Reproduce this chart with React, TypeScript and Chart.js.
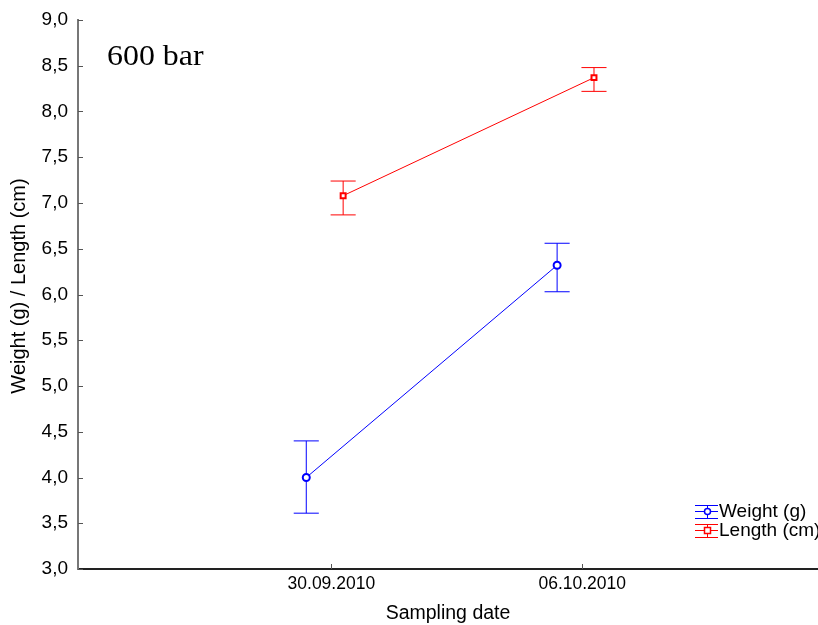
import React, { useEffect, useRef } from "react";
import { Chart, registerables } from "chart.js";

Chart.register(...registerables);

const dateLabels = ["30.09.2010", "06.10.2010"];
const datePositions = [1, 2];

const weightMean = [4.0, 6.32];
const weightLow = [3.61, 6.03];
const weightHigh = [4.4, 6.56];

const lengthMean = [7.08, 8.37];
const lengthLow = [6.87, 8.22];
const lengthHigh = [7.24, 8.48];

const yTicks = [3.0, 3.5, 4.0, 4.5, 5.0, 5.5, 6.0, 6.5, 7.0, 7.5, 8.0, 8.5, 9.0];

const WEIGHT_OFFSET = -0.1;
const LENGTH_OFFSET = 0.047;
const CAP_HALF = 0.05;

const BLUE = "rgb(0, 0, 255)";
const RED = "rgb(255, 0, 0)";
const SANS = "'Liberation Sans', Arial, sans-serif";
const SERIF = "'Liberation Serif', 'Times New Roman', serif";

function errorBarPoints(offset: number, lo: number[], hi: number[]) {
  const pts: { x: number; y: number | null }[] = [];
  datePositions.forEach((p, i) => {
    const x = p + offset;
    pts.push({ x: x - CAP_HALF, y: lo[i] }, { x: x + CAP_HALF, y: lo[i] }, { x: x + CAP_HALF, y: null });
    pts.push({ x: x, y: lo[i] }, { x: x, y: hi[i] }, { x: x, y: null });
    pts.push({ x: x - CAP_HALF, y: hi[i] }, { x: x + CAP_HALF, y: hi[i] }, { x: x + CAP_HALF, y: null });
  });
  return pts;
}

const decorations = {
  id: "decorations",
  afterDraw(chart: any) {
    const ctx: CanvasRenderingContext2D = chart.ctx;
    const xs = chart.scales.x;
    const ys = chart.scales.y;
    const area = chart.chartArea;
    ctx.save();
    ctx.strokeStyle = "#555";
    ctx.lineWidth = 1;
    ctx.beginPath();
    yTicks.forEach((v) => {
      const y = Math.round(ys.getPixelForValue(v)) + 0.5;
      ctx.moveTo(area.left, y);
      ctx.lineTo(area.left + 5, y);
    });
    datePositions.forEach((p) => {
      const x = Math.round(xs.getPixelForValue(p)) + 0.5;
      ctx.moveTo(x, area.bottom);
      ctx.lineTo(x, area.bottom - 5);
    });
    ctx.stroke();
    ctx.restore();

    // y axis title
    ctx.save();
    ctx.fillStyle = "#000";
    ctx.font = `20px ${SANS}`;
    ctx.textAlign = "center";
    ctx.textBaseline = "middle";
    ctx.translate(19, 286);
    ctx.rotate(-Math.PI / 2);
    ctx.fillText("Weight (g) / Length (cm)", 0, 0);
    ctx.restore();

    // annotation
    ctx.save();
    ctx.fillStyle = "#000";
    ctx.font = `29px ${SERIF}`;
    ctx.textBaseline = "alphabetic";
    ctx.textAlign = "left";
    ctx.translate(107, 65);
    ctx.scale(1.1, 1);
    ctx.fillText("600 bar", 0, 0);
    ctx.restore();

    // legend
    const items = [
      { label: "Weight (g)", color: BLUE, shape: "circle", cy: 511 },
      { label: "Length (cm)", color: RED, shape: "rect", cy: 530 },
    ];
    items.forEach((it) => {
      const x0 = 695, x1 = 718, xc = 707;
      const cy = it.cy + 0.5;
      ctx.save();
      ctx.strokeStyle = it.color;
      ctx.lineWidth = 1;
      ctx.beginPath();
      ctx.moveTo(x0, cy);
      ctx.lineTo(x1, cy);
      ctx.moveTo(x0, cy - 6);
      ctx.lineTo(x1, cy - 6);
      ctx.moveTo(x0, cy + 7);
      ctx.lineTo(x1, cy + 7);
      ctx.moveTo(xc + 0.5, cy - 6);
      ctx.lineTo(xc + 0.5, cy + 7);
      ctx.stroke();
      ctx.lineWidth = 1.5;
      ctx.fillStyle = "#fff";
      ctx.beginPath();
      if (it.shape === "circle") {
        ctx.arc(xc + 0.5, cy, 3, 0, Math.PI * 2);
      } else {
        ctx.rect(xc - 2.5, cy - 3, 6, 6);
      }
      ctx.fill();
      ctx.stroke();
      ctx.fillStyle = "#000";
      ctx.font = `19px ${SANS}`;
      ctx.textBaseline = "middle";
      ctx.textAlign = "left";
      ctx.fillText(it.label, 719, it.cy + 1);
      ctx.restore();
    });
  },
};

export default function App() {
  const ref = useRef<HTMLCanvasElement>(null);
  useEffect(() => {
    document.body.style.margin = "0";
    const errStyle = (color: string) => ({
      borderColor: color,
      borderWidth: 1,
      pointRadius: 0,
      pointHoverRadius: 0,
      spanGaps: false,
      fill: false,
      order: 2,
    });
    const chart = new Chart(ref.current!, {
      type: "line",
      data: {
        datasets: [
          {
            label: "Weight (g) error",
            data: errorBarPoints(WEIGHT_OFFSET, weightLow, weightHigh),
            ...errStyle(BLUE),
          },
          {
            label: "Length (cm) error",
            data: errorBarPoints(LENGTH_OFFSET, lengthLow, lengthHigh),
            ...errStyle(RED),
          },
          {
            label: "Weight (g)",
            data: datePositions.map((p, i) => ({ x: p + WEIGHT_OFFSET, y: weightMean[i] })),
            borderColor: BLUE,
            backgroundColor: "#fff",
            borderWidth: 1,
            pointStyle: "circle",
            pointRadius: 3.5,
            pointBorderWidth: 2,
            pointBackgroundColor: "#fff",
            pointBorderColor: BLUE,
            order: 1,
          },
          {
            label: "Length (cm)",
            data: datePositions.map((p, i) => ({ x: p + LENGTH_OFFSET, y: lengthMean[i] })),
            borderColor: RED,
            backgroundColor: "#fff",
            borderWidth: 1,
            pointStyle: "rect",
            pointRadius: 3.5,
            pointBorderWidth: 2,
            pointBackgroundColor: "#fff",
            pointBorderColor: RED,
            order: 1,
          },
        ],
      },
      options: {
        animation: false,
        responsive: false,
        layout: { autoPadding: false, padding: { top: 20, right: 0, left: 0, bottom: 0 } },
        plugins: { legend: { display: false }, tooltip: { enabled: false } },
        scales: {
          x: {
            type: "linear",
            min: -0.01,
            max: 2.94,
            afterBuildTicks: (scale: any) => {
              scale.ticks = datePositions.map((v) => ({ value: v }));
            },
            afterFit: (scale: any) => {
              scale.height = 56;
              scale.paddingLeft = 0;
              scale.paddingRight = 0;
            },
            ticks: {
              callback: (v: any) => {
                const i = datePositions.indexOf(Number(v));
                return i >= 0 ? dateLabels[i] : "";
              },
              font: { family: SANS, size: 17.5 },
              color: "#000",
              padding: 5,
              maxRotation: 0,
              autoSkip: false,
            },
            grid: { display: true, drawOnChartArea: false, drawTicks: false },
            border: { display: true, color: "#222", width: 2 },
            title: {
              display: true,
              text: "Sampling date",
              font: { family: SANS, size: 19.5 },
              color: "#000",
              padding: { top: 0, bottom: 0 },
            },
          },
          y: {
            min: 3,
            max: 9,
            afterBuildTicks: (scale: any) => {
              scale.ticks = yTicks.map((v) => ({ value: v }));
            },
            afterFit: (scale: any) => {
              scale.width = 78;
              scale.paddingTop = 0;
              scale.paddingBottom = 0;
            },
            ticks: {
              callback: (v: any) => Number(v).toFixed(1).replace(".", ","),
              font: { family: SANS, size: 19 },
              color: "#000",
              padding: 10,
            },
            grid: { display: true, drawOnChartArea: false, drawTicks: false },
            border: { display: true, color: "#777", width: 2 },
          },
        },
      },
      plugins: [decorations],
    });
    return () => chart.destroy();
  }, []);
  return (
    <div style={{ position: "absolute", left: 0, top: 0, width: 818, height: 625 }}>
      <canvas ref={ref} width={818} height={625} />
    </div>
  );
}
